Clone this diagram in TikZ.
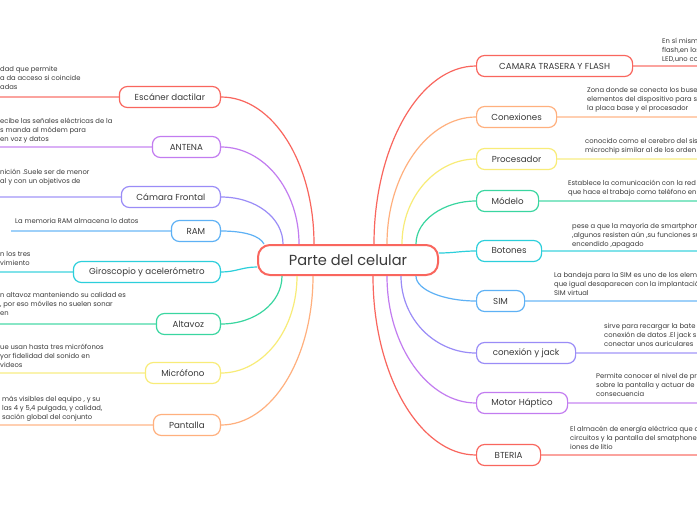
\documentclass[tikz,border=0pt]{standalone}
\usepackage{fontspec}
\setmainfont{Poppins}
\definecolor{txt}{HTML}{3A3A3A}
\definecolor{cred}{HTML}{F9665E}
\definecolor{cora}{HTML}{FFB07E}
\definecolor{cyel}{HTML}{F8EC78}
\definecolor{cgrn}{HTML}{3AD6A0}
\definecolor{ccya}{HTML}{2CCFDB}
\definecolor{cblu}{HTML}{5EB1F5}
\definecolor{clav}{HTML}{9A8CF7}
\definecolor{cpur}{HTML}{C27CF0}
\begin{document}
\begin{tikzpicture}[x=1pt,y=-1pt,
  topic/.style={draw, rounded corners=8pt, line width=1.2pt, minimum height=21pt,
    inner xsep=3pt, inner ysep=0pt, font=\fontsize{8.7}{10}\selectfont, text=txt, fill=white},
  ltopic/.style={topic, anchor=east},
  rtopic/.style={topic, anchor=west},
  detail/.style={font=\fontsize{6.8}{9}\selectfont, align=left, text=txt, inner sep=0pt, anchor=north west},
  conn/.style={line width=1.2pt},
  ul/.style={line width=1.2pt, opacity=0.6}]
\useasboundingbox (0,0) rectangle (697,520);
\clip (0,0) rectangle (697,520);
\fill[white] (0,0) rectangle (697,520);

% center
\node[draw=cred, line width=2pt, rounded corners=12pt, minimum width=180pt, minimum height=30pt,
  font=\fontsize{14.6}{16}\selectfont, text=txt, fill=white] (c) at (348,260) {Parte del celular};

% left topics
\node[ltopic, draw=cred, minimum width=101pt] (esc) at (221,97) {Escáner dactilar};
\node[ltopic, draw=cpur, minimum width=68pt] (ant) at (221,147) {ANTENA};
\node[ltopic, draw=clav, minimum width=99pt] (cam) at (221,197) {Cámara Frontal};
\node[ltopic, draw=cblu, minimum width=49pt] (ram) at (221,231) {RAM};
\node[ltopic, draw=ccya, minimum width=147pt] (gir) at (221,272) {Giroscopio y acelerómetro};
\node[ltopic, draw=cgrn, minimum width=64pt] (alt) at (221,324) {Altavoz};
\node[ltopic, draw=cyel, minimum width=75pt] (mic) at (221,373) {Micrófono};
\node[ltopic, draw=cora, minimum width=67pt] (pan) at (221,425) {Pantalla};

% right topics
\node[rtopic, draw=cred, minimum width=156pt] (ctf) at (476,66) {CAMARA TRASERA Y FLASH};
\node[rtopic, draw=cora, minimum width=80pt] (con) at (476,117) {Conexiones};
\node[rtopic, draw=cyel, minimum width=80pt] (pro) at (476,159) {Procesador};
\node[rtopic, draw=cgrn, minimum width=62pt] (mod) at (476,201) {Módelo};
\node[rtopic, draw=ccya, minimum width=65pt] (bot) at (476,251) {Botones};
\node[rtopic, draw=cblu, minimum width=48pt] (sim) at (476,301) {SIM};
\node[rtopic, draw=clav, minimum width=99pt] (jack) at (476,353) {conexión y jack};
\node[rtopic, draw=cpur, minimum width=91pt] (mot) at (476,403) {Motor Háptico};
\node[rtopic, draw=cred, minimum width=64pt] (bat) at (476,455) {BTERIA};

% connectors left
\draw[conn, cred] ([xshift=57pt]c.north west) .. controls +(0,-81) and +(52,0) .. (esc.east);
\draw[conn, cpur] ([xshift=42pt]c.north west) .. controls +(0,-54) and +(43,0) .. (ant.east);
\draw[conn, clav] ([xshift=26pt]c.north west) .. controls +(0,-26) and +(35,0) .. (cam.east);
\draw[conn, cblu] ([xshift=7pt]c.north west) .. controls +(-4,-8) and +(24,0) .. (ram.east);
\draw[conn, ccya] ([yshift=-7pt]c.west) .. controls +(-15,0) and +(15,0) .. (gir.east);
\draw[conn, cgrn] ([xshift=25pt]c.south west) .. controls +(0,27) and +(34,0) .. (alt.east);
\draw[conn, cyel] ([xshift=40pt]c.south west) .. controls +(0,54) and +(42,0) .. (mic.east);
\draw[conn, cora] ([xshift=56pt]c.south west) .. controls +(0,82) and +(51,0) .. (pan.east);
% connectors right
\draw[conn, cred] ([xshift=117pt]c.north west) .. controls +(0,-98) and +(-56,0) .. (ctf.west);
\draw[conn, cora] ([xshift=130pt]c.north west) .. controls +(0,-70) and +(-48,0) .. (con.west);
\draw[conn, cyel] ([xshift=145pt]c.north west) .. controls +(0,-47) and +(-40,0) .. (pro.west);
\draw[conn, cgrn] ([xshift=159pt]c.north west) .. controls +(0,-24) and +(-32,0) .. (mod.west);
\draw[conn, ccya] ([yshift=7pt]c.east) .. controls +(15,0) and +(-15,0) .. (bot.west);
\draw[conn, cblu] ([xshift=159pt]c.south west) .. controls +(0,14) and +(-32,0) .. (sim.west);
\draw[conn, clav] ([xshift=144pt]c.south west) .. controls +(0,43) and +(-41,0) .. (jack.west);
\draw[conn, cpur] ([xshift=130pt]c.south west) .. controls +(0,70) and +(-48,0) .. (mot.west);
\draw[conn, cred] ([xshift=116pt]c.south west) .. controls +(0,99) and +(-56,0) .. (bat.west);

% underline ends
\coordinate (escL) at (0,97);
\coordinate (antL) at (0,147);
\coordinate (camL) at (0,197);
\coordinate (ramL) at (11,231);
\coordinate (girL) at (0,272);
\coordinate (altL) at (0,324);
\coordinate (micL) at (0,373);
\coordinate (panL) at (0,425);
\coordinate (ctfR) at (697,66);
\coordinate (conR) at (697,117);
\coordinate (proR) at (697,159);
\coordinate (modR) at (697,201);
\coordinate (botR) at (697,251);
\coordinate (simR) at (697,301);
\coordinate (jackR) at (697,353);
\coordinate (motR) at (697,403);
\coordinate (batR) at (697,455);

\draw[ul, cred] (esc.west) -- (escL);
\draw[ul, cpur] (ant.west) -- (antL);
\draw[ul, clav] (cam.west) -- (camL);
\draw[ul, cblu] (ram.west) -- (ramL);
\draw[ul, ccya] (gir.west) -- (girL);
\draw[ul, cgrn] (alt.west) -- (altL);
\draw[ul, cyel] (mic.west) -- (micL);
\draw[ul, cora] (pan.west) -- (panL);
\draw[ul, cred] (ctf.east) -- (ctfR);
\draw[ul, cora] (con.east) -- (conR);
\draw[ul, cyel] (pro.east) -- (proR);
\draw[ul, cgrn] (mod.east) -- (modR);
\draw[ul, ccya] (bot.east) -- (botR);
\draw[ul, cblu] (sim.east) -- (simR);
\draw[ul, clav] (jack.east) -- (jackR);
\draw[ul, cpur] (mot.east) -- (motR);
\draw[ul, cred] (bat.east) -- (batR);

% detail texts left
\node[detail] (tesc) at (0,66.5) {dad que permite\\a da acceso si coincide\\adas};
\node[detail] (tant) at (0,117.5) {ecibe las señales eléctricas de la\\s manda al módem para\\en voz y datos};
\node[detail] (tcam) at (0,168.5) {nición .Suele ser de menor\\al y con un objetivos de};
\node[detail] (tram) at (15,218.5) {La memoria RAM almacena lo datos};
\node[detail] (tgir) at (0,251.5) {n los tres\\vimiento};
\node[detail] (talt) at (0,292.5) {n altavoz manteniendo su calidad es\\, por eso móviles no suelen sonar\\en};
\node[detail] (tmic) at (0,343.5) {ue usan hasta tres micrófonos\\yor fidelidad del sonido en\\ videos};
\node[detail] (tpan) at (2,395.5) {más visibles del equipo , y su\\las 4 y 5,4 pulgada, y calidad,\\sación global del conjunto};
% detail texts right
\node[detail] (tctf) at (662,37.5) {En sí mism\\flash,en los\\LED,uno co};
\node[detail] (tcon) at (587,87.5) {Zona donde se conecta los buses\\elementos del dispositivo para s\\la placa base y el procesador};
\node[detail] (tpro) at (585,138.5) {conocido como el cerebro del sis\\microchip similar al de los orden};
\node[detail] (tmod) at (568,179.5) {Establece la comunicación con la red ,\\que hace el trabajo como teléfono en};
\node[detail] (tbot) at (572,222.5) {pese a que la mayoría de smartphon\\,algunos resisten aún ,su funciones su\\encendido ,apagado};
\node[detail] (tsim) at (554,272.5) {La bandeja para la SIM es uno de los elem\\que igual desaparecen con la implantación\\SIM virtual};
\node[detail] (tjack) at (604,323.5) {sirve para recargar la bate\\conexión de datos .El jack s\\conectar unos auriculares};
\node[detail] (tmot) at (596,373.5) {Permite conocer el nivel de pr\\sobre la pantalla y actuar de\\consecuencia};
\node[detail] (tbat) at (570,425.5) {El almacén de energía eléctrica que a\\circuitos y la pantalla del smatphones\\iones de litio};
\end{tikzpicture}
\end{document}
